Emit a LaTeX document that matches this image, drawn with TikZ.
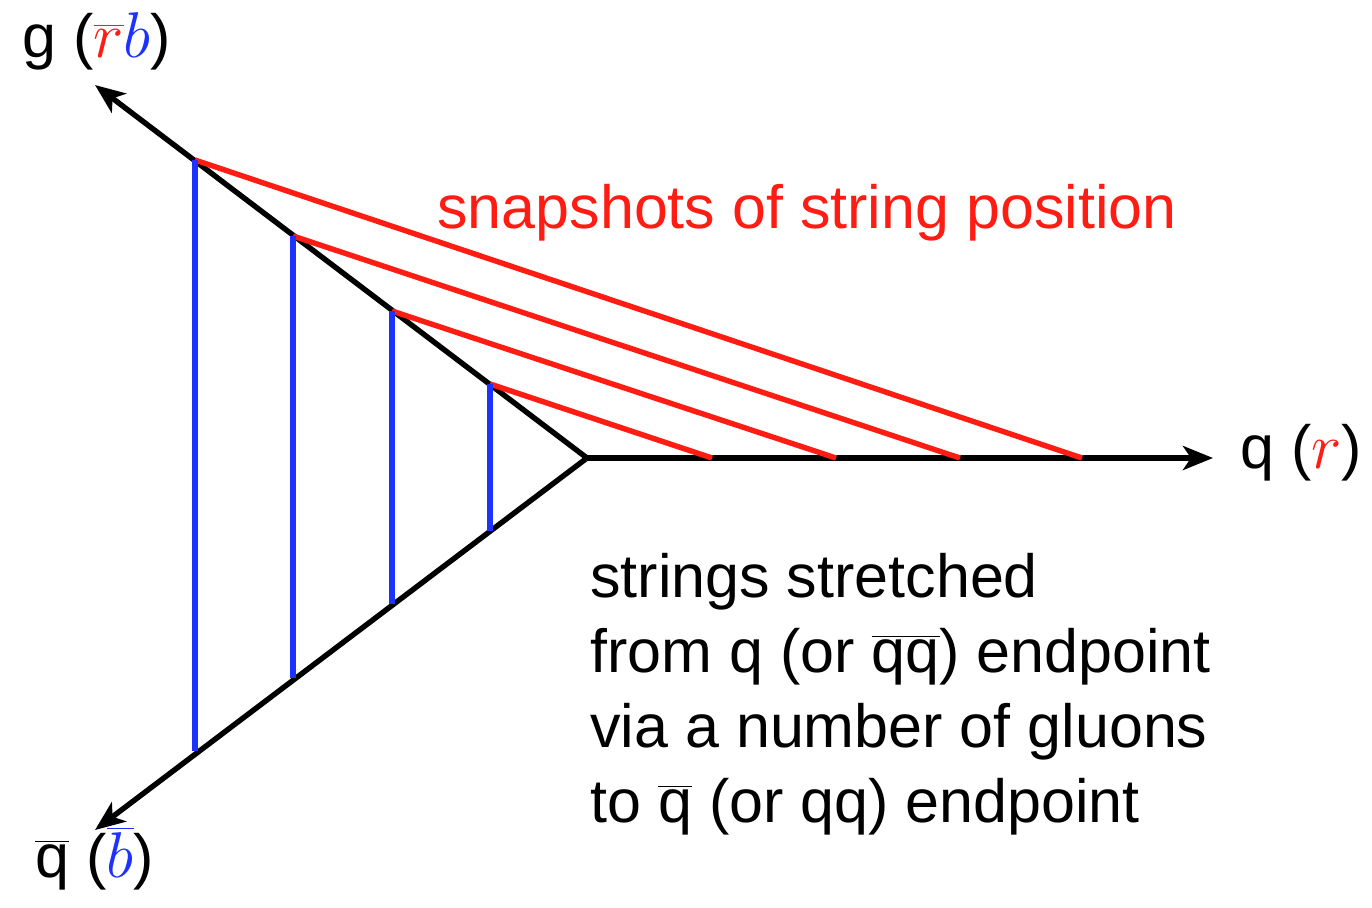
\documentclass[tikz,border=0pt]{standalone}
\usepackage{fontspec}
\usepackage{graphicx}
\setmainfont{Liberation Sans}
\usetikzlibrary{arrows.meta}
\definecolor{sred}{RGB}{255,28,18}
\definecolor{sblue}{RGB}{30,50,255}
\newcommand\mthbig[1]{\scalebox{1.3}{$#1$}}
\begin{document}
\begin{tikzpicture}[x=0.5pt,y=-0.5pt,
  axis/.style={line width=2.7pt,black},
  axisarrow/.style={axis,-{Stealth[length=15pt,width=12pt,inset=4pt]}},
  gluonline/.style={line width=2.7pt,sblue},
  snapline/.style={line width=2.7pt,sred},
  lbl/.style={inner sep=0pt,anchor=base west,font=\fontsize{30.5}{37.5}\selectfont},
  txt/.style={inner sep=0pt,anchor=base west,font=\fontsize{30.5}{37.5}\selectfont,align=left}]
\useasboundingbox (0,0) rectangle (1372,907);
% key points
\coordinate (O) at (587,458);
\coordinate (TU) at (95,85);
\coordinate (TL) at (95,830);
\coordinate (TR) at (1213,458);
\coordinate (A1) at (195,160);
\coordinate (A2) at (293,236);
\coordinate (A3) at (392,311);
\coordinate (A4) at (490,384);
\coordinate (B1) at (195,751);
\coordinate (B2) at (293,678);
\coordinate (B3) at (392,604);
\coordinate (B4) at (490,531);
\coordinate (R1) at (1082,458);
\coordinate (R2) at (960,458);
\coordinate (R3) at (836,458);
\coordinate (R4) at (712,458);
% axes
\draw[axisarrow] (O) -- (TU);
\draw[axisarrow] (O) -- (TL);
\draw[axisarrow] (O) -- (TR);
% strings
\draw[snapline] (A1) -- (R1);
\draw[snapline] (A2) -- (R2);
\draw[snapline] (A3) -- (R3);
\draw[snapline] (A4) -- (R4);
\draw[gluonline] (A1) -- (B1);
\draw[gluonline] (A2) -- (B2);
\draw[gluonline] (A3) -- (B3);
\draw[gluonline] (A4) -- (B4);
% labels
\node[lbl] (lg) at (22,57) {g (\mthbig{\color{sred}\overline{r}\color{sblue}b})};
\node[lbl] (lqb) at (35,877) {$\overline{\mbox{q}}$ (\mthbig{\color{sblue}\overline{b}})};
\node[lbl] (lq) at (1240,468) {q (\mthbig{\color{sred}r})};
\node[lbl,text=sred] (snap) at (437,228) {snapshots of string position};
\node[txt] (t1) at (590,597) {strings stretched};
\node[txt] (t2) at (590,672) {from q (or $\overline{\mbox{qq}}$) endpoint};
\node[txt] (t3) at (590,747) {via a number of gluons};
\node[txt] (t4) at (590,822) {to $\overline{\mbox{q}}$ (or qq) endpoint};
\end{tikzpicture}
\end{document}
